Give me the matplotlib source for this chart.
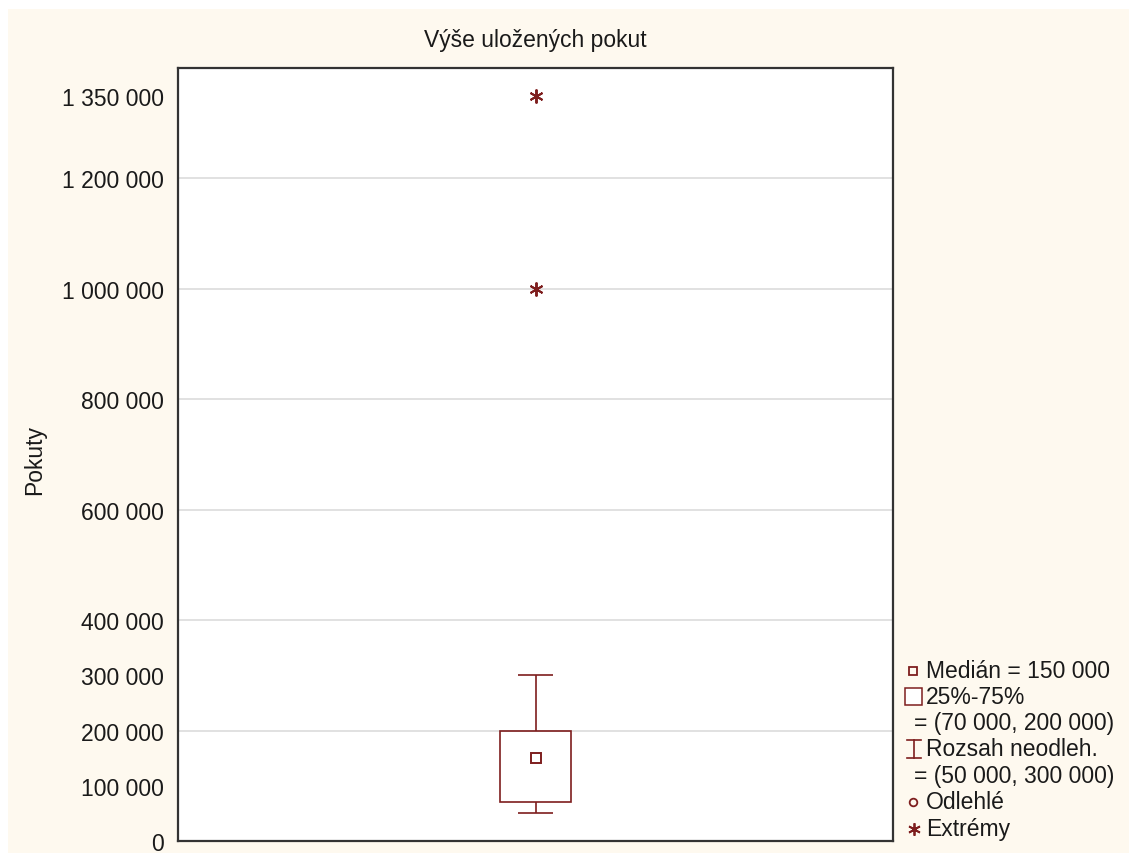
import matplotlib
matplotlib.use("Agg")
import matplotlib.pyplot as plt
from matplotlib.patches import Rectangle
from matplotlib.lines import Line2D

plt.rcParams['font.family'] = ['Liberation Sans', 'DejaVu Sans']

# data
title = "Výše uložených pokut"
ylabel = "Pokuty"
median = 150000
q1, q3 = 70000, 200000
whisk_lo, whisk_hi = 50000, 300000
outliers = []
extremes = [1000000, 1350000]
ytick_vals = [0, 100000, 200000, 300000, 400000, 600000, 800000, 1000000, 1200000, 1350000]
grid_vals = [200000, 400000, 600000, 800000, 1000000, 1200000]

def fmt(v):
    return f"{v:,}".replace(",", " ")

W, H = 1129, 854
red = '#7E1E1E'
txt = '#1A1A1A'
fs = 16.5

fig = plt.figure(figsize=(W / 100, H / 100), dpi=100, facecolor='white')
# krémové pozadí jako ve Statistice
fig.patches.append(Rectangle((8 / W, 0), 1, 1 - 10 / H, transform=fig.transFigure,
                             facecolor='#FEF9EF', edgecolor='none', zorder=-10))

ax = fig.add_axes([178 / W, 1 - 842 / H, (893 - 178) / W, (842 - 69) / H])
ax.set_facecolor('white')
ax.set_xlim(0.5, 1.5)
ax.set_ylim(0, 1400000)

x = 1
bw = 0.1
cw = 0.05
ax.add_patch(Rectangle((x - bw / 2, q1), bw, q3 - q1, facecolor='none', edgecolor=red, lw=1.2, zorder=3))
ax.vlines(x, q3, whisk_hi, color=red, lw=1.2, zorder=3)
ax.vlines(x, whisk_lo, q1, color=red, lw=1.2, zorder=3)
ax.hlines([whisk_lo, whisk_hi], x - cw / 2, x + cw / 2, color=red, lw=1.2, zorder=3)
ax.plot([x], [median], marker='s', ms=7, mfc='white', mec=red, mew=1.4, ls='none', zorder=4)
if outliers:
    ax.plot([x] * len(outliers), outliers, marker='o', ms=6, mfc='none', mec=red, ls='none', zorder=4)
ax.plot([x] * len(extremes), extremes, marker=(6, 2, 0), ms=10, mec=red, mew=1.4, ls='none', zorder=4)

for g in grid_vals:
    ax.axhline(g, color='#DCDCDC', lw=1.2, zorder=1)

ax.set_xticks([])
ax.set_yticks(ytick_vals)
ax.set_yticklabels([fmt(v) for v in ytick_vals], fontsize=fs, color=txt)
ax.tick_params(axis='y', which='major', length=0, pad=10)
ax.set_yticks(grid_vals, minor=True)
ax.tick_params(axis='y', which='minor', direction='in', length=4, width=1.3,
               left=True, right=True, color='#333333')
for s in ax.spines.values():
    s.set_color('#333333')
    s.set_linewidth(1.6)

fig.text(535 / W, 1 - 40 / H, title, ha='center', va='center', fontsize=fs, color=txt)
fig.text(35 / W, 1 - 460 / H, ylabel, ha='center', va='center', rotation=90, fontsize=fs, color=txt)

# legenda
lax = fig.add_axes([0, 0, 1, 1], facecolor='none')
lax.set_xlim(0, W)
lax.set_ylim(H, 0)
lax.axis('off')
rows = [672, 698, 724, 750, 777, 803, 830]
tx = 926
lax.plot([913], [rows[0]], marker='s', ms=6, mfc='none', mec=red, mew=1.3)
lax.text(tx, rows[0], f"Medián = {fmt(median)}", va='center', fontsize=fs, color=txt)
lax.add_patch(Rectangle((905, rows[1] - 9), 17, 17, facecolor='white', edgecolor=red, lw=1.1))
lax.text(tx, rows[1], "25%-75%", va='center', fontsize=fs, color=txt)
lax.text(914, rows[2], f"= ({fmt(q1)}, {fmt(q3)})", va='center', fontsize=fs, color=txt)
lax.add_line(Line2D([914, 914], [rows[3] - 9, rows[3] + 9], color=red, lw=1.2))
lax.add_line(Line2D([907, 921], [rows[3] - 9, rows[3] - 9], color=red, lw=1.2))
lax.add_line(Line2D([907, 921], [rows[3] + 9, rows[3] + 9], color=red, lw=1.2))
lax.text(tx, rows[3], "Rozsah neodleh.", va='center', fontsize=fs, color=txt)
lax.text(914, rows[4], f"= ({fmt(whisk_lo)}, {fmt(whisk_hi)})", va='center', fontsize=fs, color=txt)
lax.plot([913], [rows[5]], marker='o', ms=5.5, mfc='none', mec=red, mew=1.3)
lax.text(tx, rows[5], "Odlehlé", va='center', fontsize=fs, color=txt)
lax.plot([914], [rows[6]], marker=(6, 2, 0), ms=9, mec=red, mew=1.3)
lax.text(tx, rows[6], "Extrémy", va='center', fontsize=fs, color=txt)

fig.savefig("out.png", dpi=100, facecolor='white')
